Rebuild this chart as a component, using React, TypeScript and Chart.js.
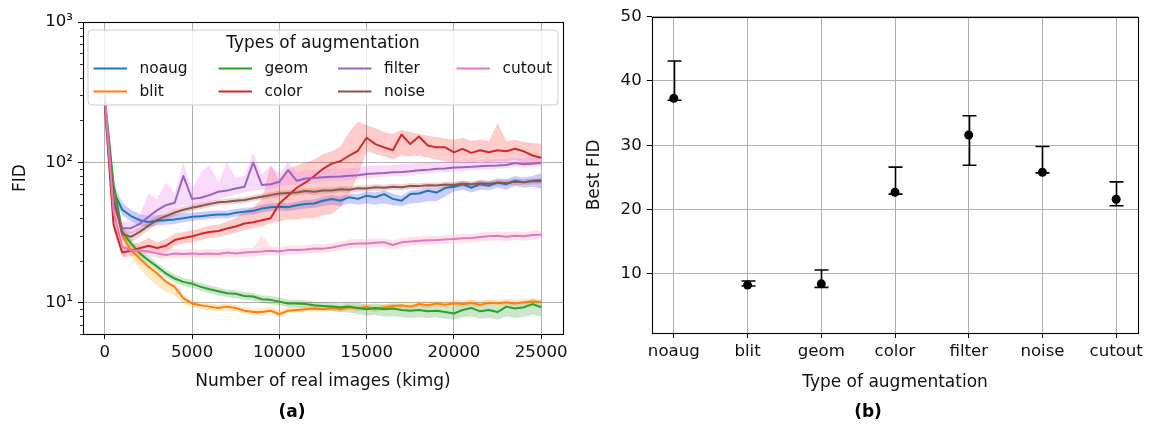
import React, { useEffect, useRef } from 'react';
import { Chart, registerables } from 'chart.js';

Chart.register(...registerables);

// ---------------- data: left panel (FID over training, log scale) ----------------
const kimg = [0, 500, 1000, 1500, 2000, 2500, 3000, 3500, 4000, 4500, 5000, 5500, 6000, 6500, 7000, 7500, 8000, 8500, 9000, 9500, 10000, 10500, 11000, 11500, 12000, 12500, 13000, 13500, 14000, 14500, 15000, 15500, 16000, 16500, 17000, 17500, 18000, 18500, 19000, 19500, 20000, 20500, 21000, 21500, 22000, 22500, 23000, 23500, 24000, 24500, 25000];

const noaugMean = [270, 62, 46, 41.5, 38.8, 37.7, 38.4, 38.8, 39.3, 40, 41, 41.3, 42, 42.5, 42.5, 43.8, 44.5, 45.2, 47, 48, 48.4, 48, 49.5, 50.5, 51, 53.4, 54.8, 53.4, 56.4, 55, 58, 56.5, 59.5, 55, 53.4, 59.5, 60, 62.8, 61, 65.7, 67.2, 70, 66, 70, 68.2, 72, 70, 74, 72, 74, 74.8];
const noaugLo = [250, 55, 42, 38, 35.5, 34.5, 35.5, 36, 36.5, 37.5, 38.5, 39, 39.5, 40, 40, 41, 42, 42.5, 44, 45, 45.5, 45, 46, 47, 47.5, 49, 50, 49, 51, 50, 51, 50, 51, 49.5, 49, 51, 51.5, 53, 53, 57, 62, 64, 61, 64, 63, 66, 64, 68, 66, 67, 65];
const noaugHi = [290, 70, 52, 46, 43, 41.5, 42, 42.5, 43, 43.5, 44, 44.5, 45, 45.5, 45.5, 46.5, 47.5, 48, 50, 51, 51.5, 51, 52.5, 54, 54.5, 57, 58.5, 57, 60, 59, 62, 61, 63, 60, 58, 63, 64, 66, 65, 69, 71, 74, 71, 75, 73, 77, 76, 80, 78, 80, 84];

const blitMean = [280, 60, 30, 23.7, 20.7, 18.1, 16.2, 14.1, 13, 10.8, 9.9, 9.6, 9.4, 9.2, 9.4, 9.2, 8.8, 8.6, 8.6, 8.8, 8.3, 8.8, 8.9, 9.0, 9.1, 9.0, 9.2, 9.0, 9.3, 9.1, 9.4, 9.0, 9.3, 9.5, 9.6, 9.4, 9.8, 9.6, 9.9, 9.7, 9.9, 9.8, 10.0, 9.7, 10.0, 9.9, 10.1, 9.9, 10.1, 10.2, 10.2];
const blitLo = [260, 52, 27, 21, 17.5, 15, 13.3, 12, 11.3, 9.9, 9.3, 9.1, 8.9, 8.7, 8.9, 8.7, 8.4, 8.2, 8.2, 8.4, 7.9, 8.4, 8.5, 8.6, 8.7, 8.6, 8.8, 8.6, 8.9, 8.7, 8.9, 8.6, 8.9, 9.0, 9.2, 9.0, 9.3, 9.2, 9.4, 9.3, 9.4, 9.4, 9.5, 9.3, 9.6, 9.5, 9.7, 9.5, 9.7, 9.8, 9.7];
const blitHi = [300, 68, 33, 25, 21.5, 19, 17, 14.8, 13.6, 11.4, 10.4, 10.1, 9.9, 9.7, 9.9, 9.7, 9.3, 9.1, 9.1, 9.3, 8.8, 9.3, 9.4, 9.5, 9.6, 9.5, 9.7, 9.5, 9.8, 9.6, 9.9, 9.5, 9.8, 10.0, 10.2, 10.0, 10.4, 10.2, 10.4, 10.2, 10.5, 10.4, 10.6, 10.3, 10.6, 10.5, 10.7, 10.5, 10.7, 10.8, 10.7];

const geomMean = [290, 70, 32, 26.5, 22.5, 20.1, 18.1, 16.2, 14.9, 14.1, 13.7, 13.0, 12.5, 12.1, 11.7, 11.6, 11.2, 11.1, 10.6, 10.5, 10.2, 9.9, 9.9, 9.8, 9.6, 9.5, 9.4, 9.3, 9.4, 9.2, 9.0, 9.2, 9.0, 9.1, 8.9, 8.8, 8.9, 8.7, 8.8, 8.6, 8.4, 8.9, 9.2, 8.7, 8.9, 8.6, 9.4, 9.1, 9.3, 9.8, 9.3];
const geomLo = [275, 62, 29, 24.5, 21, 18.8, 17, 15.2, 14, 13.2, 12.8, 12.2, 11.7, 11.3, 11.0, 10.8, 10.5, 10.4, 10.0, 9.8, 9.6, 9.3, 9.3, 9.2, 9.0, 8.9, 8.7, 8.6, 8.5, 8.3, 8.1, 8.2, 8.0, 8.0, 7.9, 7.8, 7.9, 7.8, 7.9, 7.7, 7.6, 7.9, 8.0, 7.7, 7.8, 7.6, 8.0, 7.8, 7.9, 8.2, 8.0];
const geomHi = [305, 78, 35, 28.5, 24, 21.5, 19.3, 17.3, 15.9, 15.0, 14.6, 13.8, 13.3, 12.9, 12.4, 12.3, 11.9, 11.8, 11.3, 11.2, 10.9, 10.5, 10.5, 10.4, 10.2, 10.1, 10.0, 9.9, 10.1, 10.0, 9.7, 9.9, 9.7, 9.8, 9.6, 9.6, 9.7, 9.5, 9.7, 9.5, 9.4, 9.8, 10.1, 9.6, 9.8, 9.5, 10.2, 10.0, 10.2, 10.6, 10.2];

const colorMean = [250, 36, 22.8, 23.5, 24.5, 25.5, 24.6, 25.5, 28, 29, 29.8, 31, 32, 32.5, 33.8, 35, 36.7, 37.5, 38.8, 40, 51, 58, 66, 72, 80, 90, 98, 102, 112, 121, 150, 135, 128, 122, 158, 135, 153, 132, 128, 128, 118, 125, 117, 122, 118, 122, 120, 125, 120, 112, 108];
const colorLo = [240, 32, 21, 21.5, 22, 23, 22.5, 23, 25.5, 26.5, 27, 28, 29, 29.5, 30.5, 31.5, 33, 34, 35, 37, 38, 39, 39, 40, 40, 42, 43, 48, 60, 80, 120, 115, 110, 105, 112, 110, 112, 108, 105, 102, 100, 102, 100, 102, 100, 102, 102, 104, 100, 98, 95];
const colorHi = [270, 42, 25, 26, 27, 29, 27, 28.5, 31, 32, 33, 34, 35.5, 36, 38, 40, 45, 48, 55, 95, 75, 90, 95, 100, 105, 115, 120, 130, 165, 195, 185, 175, 165, 160, 170, 165, 160, 155, 152, 148, 145, 150, 142, 145, 142, 190, 142, 145, 140, 138, 135];

const filterMean = [265, 50, 34, 34, 36.5, 41, 45.7, 49.6, 51.6, 80, 55, 56, 58.5, 61.8, 63, 65.3, 67, 100, 69, 70, 72.8, 88, 74, 76.9, 77.5, 78.5, 79, 79.5, 80.3, 81, 82.6, 83.5, 84, 85, 85.5, 86.5, 88, 88.5, 90, 90.5, 92, 92.5, 93, 94, 94.5, 95, 96, 99, 97, 98, 100];
const filterLo = [250, 45, 31, 31, 33, 37, 41, 44, 46, 50, 49, 50, 52, 55, 57, 59, 61, 63, 64, 65, 67, 69, 69, 71, 72, 73, 74, 74, 75, 76, 77, 78, 79, 80, 80, 81, 83, 83, 85, 85, 87, 87, 88, 89, 89, 90, 91, 93, 92, 93, 94];
const filterHi = [290, 58, 38, 38, 42, 60, 55, 72, 60, 100, 64, 85, 96, 72, 100, 78, 80, 118, 82, 95, 84, 100, 85, 88, 88, 89, 90, 90, 91, 92, 94, 95, 95, 96, 97, 98, 99, 99, 100, 101, 102, 103, 103, 104, 105, 105, 106, 108, 107, 108, 110];

const noiseMean = [275, 55, 31, 29.5, 32, 35.5, 39, 41.5, 44, 46, 47.5, 49, 50.5, 52, 52.5, 53.4, 54, 55.5, 57, 58.5, 60, 60.6, 61, 62.5, 61.8, 63, 63.2, 64.5, 64, 65.5, 65.2, 66.5, 66, 67.2, 66.6, 68, 67.8, 68.8, 68.4, 69.6, 69.2, 70.4, 69.8, 71, 70.6, 71.8, 71.5, 72.8, 72.4, 73.6, 73.5];
const noiseLo = [260, 50, 28, 27, 29.5, 33, 36.5, 39, 41.5, 43.5, 45, 46.5, 48, 49.5, 50, 50.8, 51.3, 52.8, 54.2, 55.6, 57, 57.6, 58, 59.4, 58.7, 59.8, 60, 61.3, 60.8, 62.2, 62, 63.2, 62.7, 63.8, 63.3, 64.6, 64.4, 65.4, 65, 66.1, 65.7, 66.9, 66.3, 67.5, 67.1, 68.2, 67.9, 69.2, 68.8, 69.9, 69.8];
const noiseHi = [290, 60, 34, 32, 34.5, 38, 41.5, 44, 46.5, 48.5, 50, 51.5, 53, 54.6, 55.1, 56, 56.7, 58.3, 59.8, 61.4, 63, 63.6, 64, 65.6, 64.9, 66.2, 66.4, 67.7, 67.2, 68.8, 68.5, 69.8, 69.3, 70.6, 69.9, 71.4, 71.2, 72.2, 71.8, 73.1, 72.7, 73.9, 73.3, 74.6, 74.1, 75.4, 75.1, 76.4, 76, 77.3, 77.2];

const cutoutMean = [300, 45, 25, 23.7, 23.5, 23.2, 22.5, 21.9, 22.5, 22.3, 22.5, 22.3, 22.5, 22.3, 22.8, 22.5, 22.8, 23, 23.2, 23.5, 23.2, 23.8, 23.8, 24, 24.4, 24.3, 24.8, 25.5, 26.2, 26.5, 26.5, 26.8, 27, 25.8, 27, 27.3, 27.7, 27.9, 28, 28.3, 28.5, 28.8, 29, 29.4, 29.8, 30.1, 29.6, 30.1, 29.8, 30.4, 30.6];
const cutoutLo = [280, 40, 23, 22, 21.8, 21.5, 20.9, 20.4, 20.9, 20.7, 20.9, 20.7, 20.9, 20.7, 21.2, 20.9, 21.2, 21.4, 21.6, 21.9, 21.6, 22.1, 22.1, 22.3, 22.7, 22.6, 23.1, 23.7, 24.4, 24.6, 24.6, 24.9, 25.1, 24, 25.1, 25.4, 25.8, 25.9, 26, 26.3, 26.5, 26.8, 27, 27.3, 27.7, 28, 27.5, 28, 27.7, 28.3, 28.5];
const cutoutHi = [320, 52, 27.5, 25.5, 25.2, 25, 24.2, 27, 24.2, 24, 24.2, 24, 24.2, 24, 24.5, 24.2, 24.5, 24.7, 30.5, 25.3, 25, 25.6, 25.6, 25.8, 26.2, 26.1, 26.7, 27.4, 28.2, 28.5, 28.5, 28.8, 29, 27.8, 29, 29.4, 29.8, 30, 30.1, 30.4, 30.6, 31, 31.2, 31.6, 32, 32.4, 31.8, 32.4, 32, 32.7, 32.9];

const seriesLabels = ['noaug', 'blit', 'geom', 'color', 'filter', 'noise', 'cutout'];
const xTicksLeft = [0, 5000, 10000, 15000, 20000, 25000];
const yMajorTicksLeft = [10, 100, 1000];
const yMajorLabelsLeft = ['10¹', '10²', '10³'];

// ---------------- data: right panel (best FID per augmentation) ----------------
const categories = ['noaug', 'blit', 'geom', 'color', 'filter', 'noise', 'cutout'];
const bestFid = [37.3, 8.25, 8.45, 22.7, 31.6, 25.8, 21.6];
const errLow = [37.0, 8.1, 7.9, 22.4, 26.9, 25.7, 20.6];
const errHigh = [43.1, 8.9, 10.6, 26.6, 34.6, 29.8, 24.3];
const yTicksRight = [10, 20, 30, 40, 50];

// ---------------- styling ----------------
const FONT = '"DejaVu Sans", sans-serif';
const TEXT = '#111';
const GRID = '#b0b0b0';

const lineColors = ['#1f77b4', '#ff7f0e', '#2ca02c', '#d62728', '#9467bd', '#8c564b', '#e377c2'];
const bandColors = [
  'rgba(0,0,255,0.2)',
  'rgba(255,165,0,0.25)',
  'rgba(0,128,0,0.2)',
  'rgba(255,0,0,0.2)',
  'rgba(238,130,238,0.3)',
  'rgba(165,42,42,0.2)',
  'rgba(255,192,203,0.45)',
];

const means = [noaugMean, blitMean, geomMean, colorMean, filterMean, noiseMean, cutoutMean];
const lows = [noaugLo, blitLo, geomLo, colorLo, filterLo, noiseLo, cutoutLo];
const highs = [noaugHi, blitHi, geomHi, colorHi, filterHi, noiseHi, cutoutHi];

const isPow10 = (v: number) => {
  const l = Math.log10(v);
  return Math.abs(l - Math.round(l)) < 1e-9;
};

const toPts = (arr: number[]) => arr.map((y, i) => ({ x: kimg[i], y }));

const framePlugin = {
  id: 'frame',
  afterDraw(chart: any) {
    const { ctx, chartArea: a } = chart;
    ctx.save();
    ctx.strokeStyle = '#000';
    ctx.lineWidth = 1.1;
    ctx.strokeRect(Math.round(a.left) + 0.5, Math.round(a.top) + 0.5, Math.round(a.right) - Math.round(a.left), Math.round(a.bottom) - Math.round(a.top));
    ctx.restore();
  },
};

const captionPlugin = (text: string, x: number, y: number) => ({
  id: 'caption',
  afterDraw(chart: any) {
    const ctx = chart.ctx;
    ctx.save();
    ctx.font = `bold 17px ${FONT}`;
    ctx.fillStyle = '#000';
    ctx.textAlign = 'center';
    ctx.textBaseline = 'middle';
    ctx.fillText(text, x, y);
    ctx.restore();
  },
});

const minorTickPlugin = {
  id: 'minorTicks',
  afterDraw(chart: any) {
    const { ctx, chartArea: a } = chart;
    const y = chart.scales.y;
    ctx.save();
    ctx.strokeStyle = '#000';
    ctx.lineWidth = 0.8;
    y.ticks.forEach((t: any) => {
      if (isPow10(t.value)) return;
      const py = Math.round(y.getPixelForValue(t.value)) + 0.5;
      ctx.beginPath();
      ctx.moveTo(a.left - 3, py);
      ctx.lineTo(a.left, py);
      ctx.stroke();
    });
    ctx.restore();
  },
};

const legendPlugin = {
  id: 'mplLegend',
  afterDatasetsDraw(chart: any) {
    const ctx = chart.ctx;
    const L = 88, T = 30, R = 558, B = 105, r = 4;
    ctx.save();
    ctx.beginPath();
    ctx.moveTo(L + r, T);
    ctx.lineTo(R - r, T);
    ctx.arcTo(R, T, R, T + r, r);
    ctx.lineTo(R, B - r);
    ctx.arcTo(R, B, R - r, B, r);
    ctx.lineTo(L + r, B);
    ctx.arcTo(L, B, L, B - r, r);
    ctx.lineTo(L, T + r);
    ctx.arcTo(L, T, L + r, T, r);
    ctx.closePath();
    ctx.fillStyle = 'rgba(255,255,255,0.8)';
    ctx.fill();
    ctx.strokeStyle = '#cccccc';
    ctx.lineWidth = 1;
    ctx.stroke();

    ctx.fillStyle = TEXT;
    ctx.textBaseline = 'middle';
    ctx.textAlign = 'center';
    ctx.font = `16.9px ${FONT}`;
    ctx.fillText('Types of augmentation', (L + R) / 2, 44);

    const colX = [93.5, 218.5, 338, 456.5];
    const rowY = [68.5, 91.5];
    ctx.textAlign = 'left';
    ctx.font = `15.4px ${FONT}`;
    const lines = chart.data.datasets.filter((d: any) => d.isSeries);
    lines.forEach((d: any, i: number) => {
      const cx = colX[Math.floor(i / 2)];
      const cy = rowY[i % 2];
      ctx.strokeStyle = d.borderColor;
      ctx.lineWidth = 2;
      ctx.beginPath();
      ctx.moveTo(cx, cy);
      ctx.lineTo(cx + 33.5, cy);
      ctx.stroke();
      ctx.fillStyle = TEXT;
      ctx.fillText(d.label, cx + 46, cy + 0.5);
    });
    ctx.restore();
  },
};

const errorBarPlugin = {
  id: 'errorBars',
  beforeDatasetsDraw(chart: any) {
    const { ctx } = chart;
    const x = chart.scales.x;
    const y = chart.scales.y;
    ctx.save();
    ctx.strokeStyle = '#000';
    ctx.lineWidth = 1.6;
    bestFid.forEach((_, i) => {
      const px = Math.round(x.getPixelForValue(i)) + 0.5;
      const yl = y.getPixelForValue(errLow[i]);
      const yh = y.getPixelForValue(errHigh[i]);
      ctx.beginPath();
      ctx.moveTo(px, yl);
      ctx.lineTo(px, yh);
      ctx.moveTo(px - 7, yl);
      ctx.lineTo(px + 7, yl);
      ctx.moveTo(px - 7, yh);
      ctx.lineTo(px + 7, yh);
      ctx.stroke();
    });
    ctx.restore();
  },
};

function leftConfig(): any {
  const datasets: any[] = [];
  seriesLabels.forEach((label, i) => {
    const loIdx = datasets.length;
    datasets.push({
      label: label + ' min',
      data: toPts(lows[i]),
      borderWidth: 0,
      borderColor: 'transparent',
      pointRadius: 0,
      fill: false,
      order: 100 + (6 - i),
    });
    datasets.push({
      label: label + ' max',
      data: toPts(highs[i]),
      borderWidth: 0,
      borderColor: 'transparent',
      backgroundColor: bandColors[i],
      pointRadius: 0,
      fill: loIdx,
      order: 100 + (6 - i),
    });
  });
  seriesLabels.forEach((label, i) => {
    datasets.push({
      label,
      isSeries: true,
      data: toPts(means[i]),
      borderColor: lineColors[i],
      backgroundColor: lineColors[i],
      borderWidth: 2,
      borderJoinStyle: 'round',
      pointRadius: 0,
      fill: false,
      order: 6 - i,
    });
  });

  return {
    type: 'line',
    data: { datasets },
    options: {
      responsive: false,
      animation: false,
      devicePixelRatio: 1,
      events: [],
      layout: { padding: { top: 22, right: 17, bottom: 0, left: 0 } },
      plugins: { legend: { display: false }, tooltip: { enabled: false } },
      scales: {
        x: {
          type: 'linear',
          min: -1250,
          max: 26250,
          afterBuildTicks: (s: any) => {
            s.ticks = xTicksLeft.map((v) => ({ value: v }));
          },
          afterFit: (s: any) => {
            s.height = 91;
          },
          ticks: {
            autoSkip: false,
            maxRotation: 0,
            padding: 4,
            color: TEXT,
            font: { family: FONT, size: 16.6 },
            callback: (v: any) => String(v),
          },
          grid: { color: GRID, lineWidth: 1, drawTicks: true, tickLength: 5, tickColor: '#000', tickWidth: 1 },
          border: { display: false },
          title: {
            display: true,
            text: 'Number of real images (kimg)',
            color: TEXT,
            font: { family: FONT, size: 17 },
            padding: { top: 0, bottom: 33 },
          },
        },
        y: {
          type: 'logarithmic',
          min: 6,
          max: 1000,
          afterBuildTicks: (s: any) => {
            const t: any[] = [];
            for (let e = 0; e <= 3; e++) {
              for (let d = 1; d <= 9; d++) {
                const v = d * Math.pow(10, e);
                if (v >= 6 && v <= 1000) t.push({ value: v });
              }
            }
            s.ticks = t;
          },
          afterFit: (s: any) => {
            s.width = 83;
          },
          ticks: {
            autoSkip: false,
            padding: 5,
            color: TEXT,
            font: { family: FONT, size: 16.6 },
            callback: (v: any) => {
              const k = yMajorTicksLeft.findIndex((m) => Math.abs(m - v) < 1e-6);
              return k >= 0 ? yMajorLabelsLeft[k] : '';
            },
          },
          grid: {
            lineWidth: 1,
            drawTicks: true,
            tickLength: 5,
            tickWidth: 1,
            color: (c: any) => (c.tick && isPow10(c.tick.value) ? GRID : 'rgba(0,0,0,0)'),
            tickColor: (c: any) => (c.tick && isPow10(c.tick.value) ? '#000' : 'rgba(0,0,0,0)'),
          },
          border: { display: false },
          title: {
            display: true,
            text: 'FID',
            color: TEXT,
            font: { family: FONT, size: 17 },
            padding: { top: 10, bottom: 0 },
          },
        },
      },
    },
    plugins: [minorTickPlugin, legendPlugin, framePlugin, captionPlugin('(a)', 292, 413)],
  };
}

function rightConfig(): any {
  return {
    type: 'scatter',
    data: {
      datasets: [
        {
          label: 'Best FID',
          data: bestFid.map((v, i) => ({ x: i, y: v })),
          backgroundColor: '#000',
          borderColor: '#000',
          borderWidth: 0,
          pointRadius: 4.5,
        },
      ],
    },
    options: {
      responsive: false,
      animation: false,
      devicePixelRatio: 1,
      events: [],
      layout: { padding: { top: 16.7, right: 19.7, bottom: 0, left: 0 } },
      plugins: { legend: { display: false }, tooltip: { enabled: false } },
      scales: {
        x: {
          type: 'linear',
          min: -0.3,
          max: 6.3,
          afterBuildTicks: (s: any) => {
            s.ticks = categories.map((_, i) => ({ value: i }));
          },
          afterFit: (s: any) => {
            s.height = 92;
          },
          ticks: {
            autoSkip: false,
            maxRotation: 0,
            padding: 4,
            color: TEXT,
            font: { family: FONT, size: 16.6 },
            callback: (v: any) => categories[Math.round(v)] ?? '',
          },
          grid: { color: GRID, lineWidth: 1, drawTicks: true, tickLength: 5, tickColor: '#000', tickWidth: 1 },
          border: { display: false },
          title: {
            display: true,
            text: 'Type of augmentation',
            color: TEXT,
            font: { family: FONT, size: 17 },
            padding: { top: 0, bottom: 31.8 },
          },
        },
        y: {
          type: 'linear',
          min: 0.8,
          max: 50,
          afterBuildTicks: (s: any) => {
            s.ticks = yTicksRight.map((v) => ({ value: v }));
          },
          afterFit: (s: any) => {
            s.width = 71.7;
          },
          ticks: {
            autoSkip: false,
            padding: 5,
            color: TEXT,
            font: { family: FONT, size: 16.6 },
            callback: (v: any) => String(v),
          },
          grid: { color: GRID, lineWidth: 1, drawTicks: true, tickLength: 5, tickColor: '#000', tickWidth: 1 },
          border: { display: false },
          title: {
            display: true,
            text: 'Best FID',
            color: TEXT,
            font: { family: FONT, size: 17 },
            padding: { top: 4.8, bottom: 0 },
          },
        },
      },
    },
    plugins: [errorBarPlugin, framePlugin, captionPlugin('(b)', 288, 413)],
  };
}

export default function App() {
  const leftRef = useRef<HTMLCanvasElement>(null);
  const rightRef = useRef<HTMLCanvasElement>(null);

  useEffect(() => {
    const c1 = new Chart(leftRef.current as HTMLCanvasElement, leftConfig());
    const c2 = new Chart(rightRef.current as HTMLCanvasElement, rightConfig());
    return () => {
      c1.destroy();
      c2.destroy();
    };
  }, []);

  return (
    <div style={{ position: 'fixed', left: 0, top: 0, width: 1158, height: 425, background: '#fff' }}>
      <canvas
        ref={leftRef}
        width={580}
        height={425}
        style={{ position: 'absolute', left: 0, top: 0, width: 580, height: 425 }}
      />
      <canvas
        ref={rightRef}
        width={578}
        height={425}
        style={{ position: 'absolute', left: 580, top: 0, width: 578, height: 425 }}
      />
    </div>
  );
}
